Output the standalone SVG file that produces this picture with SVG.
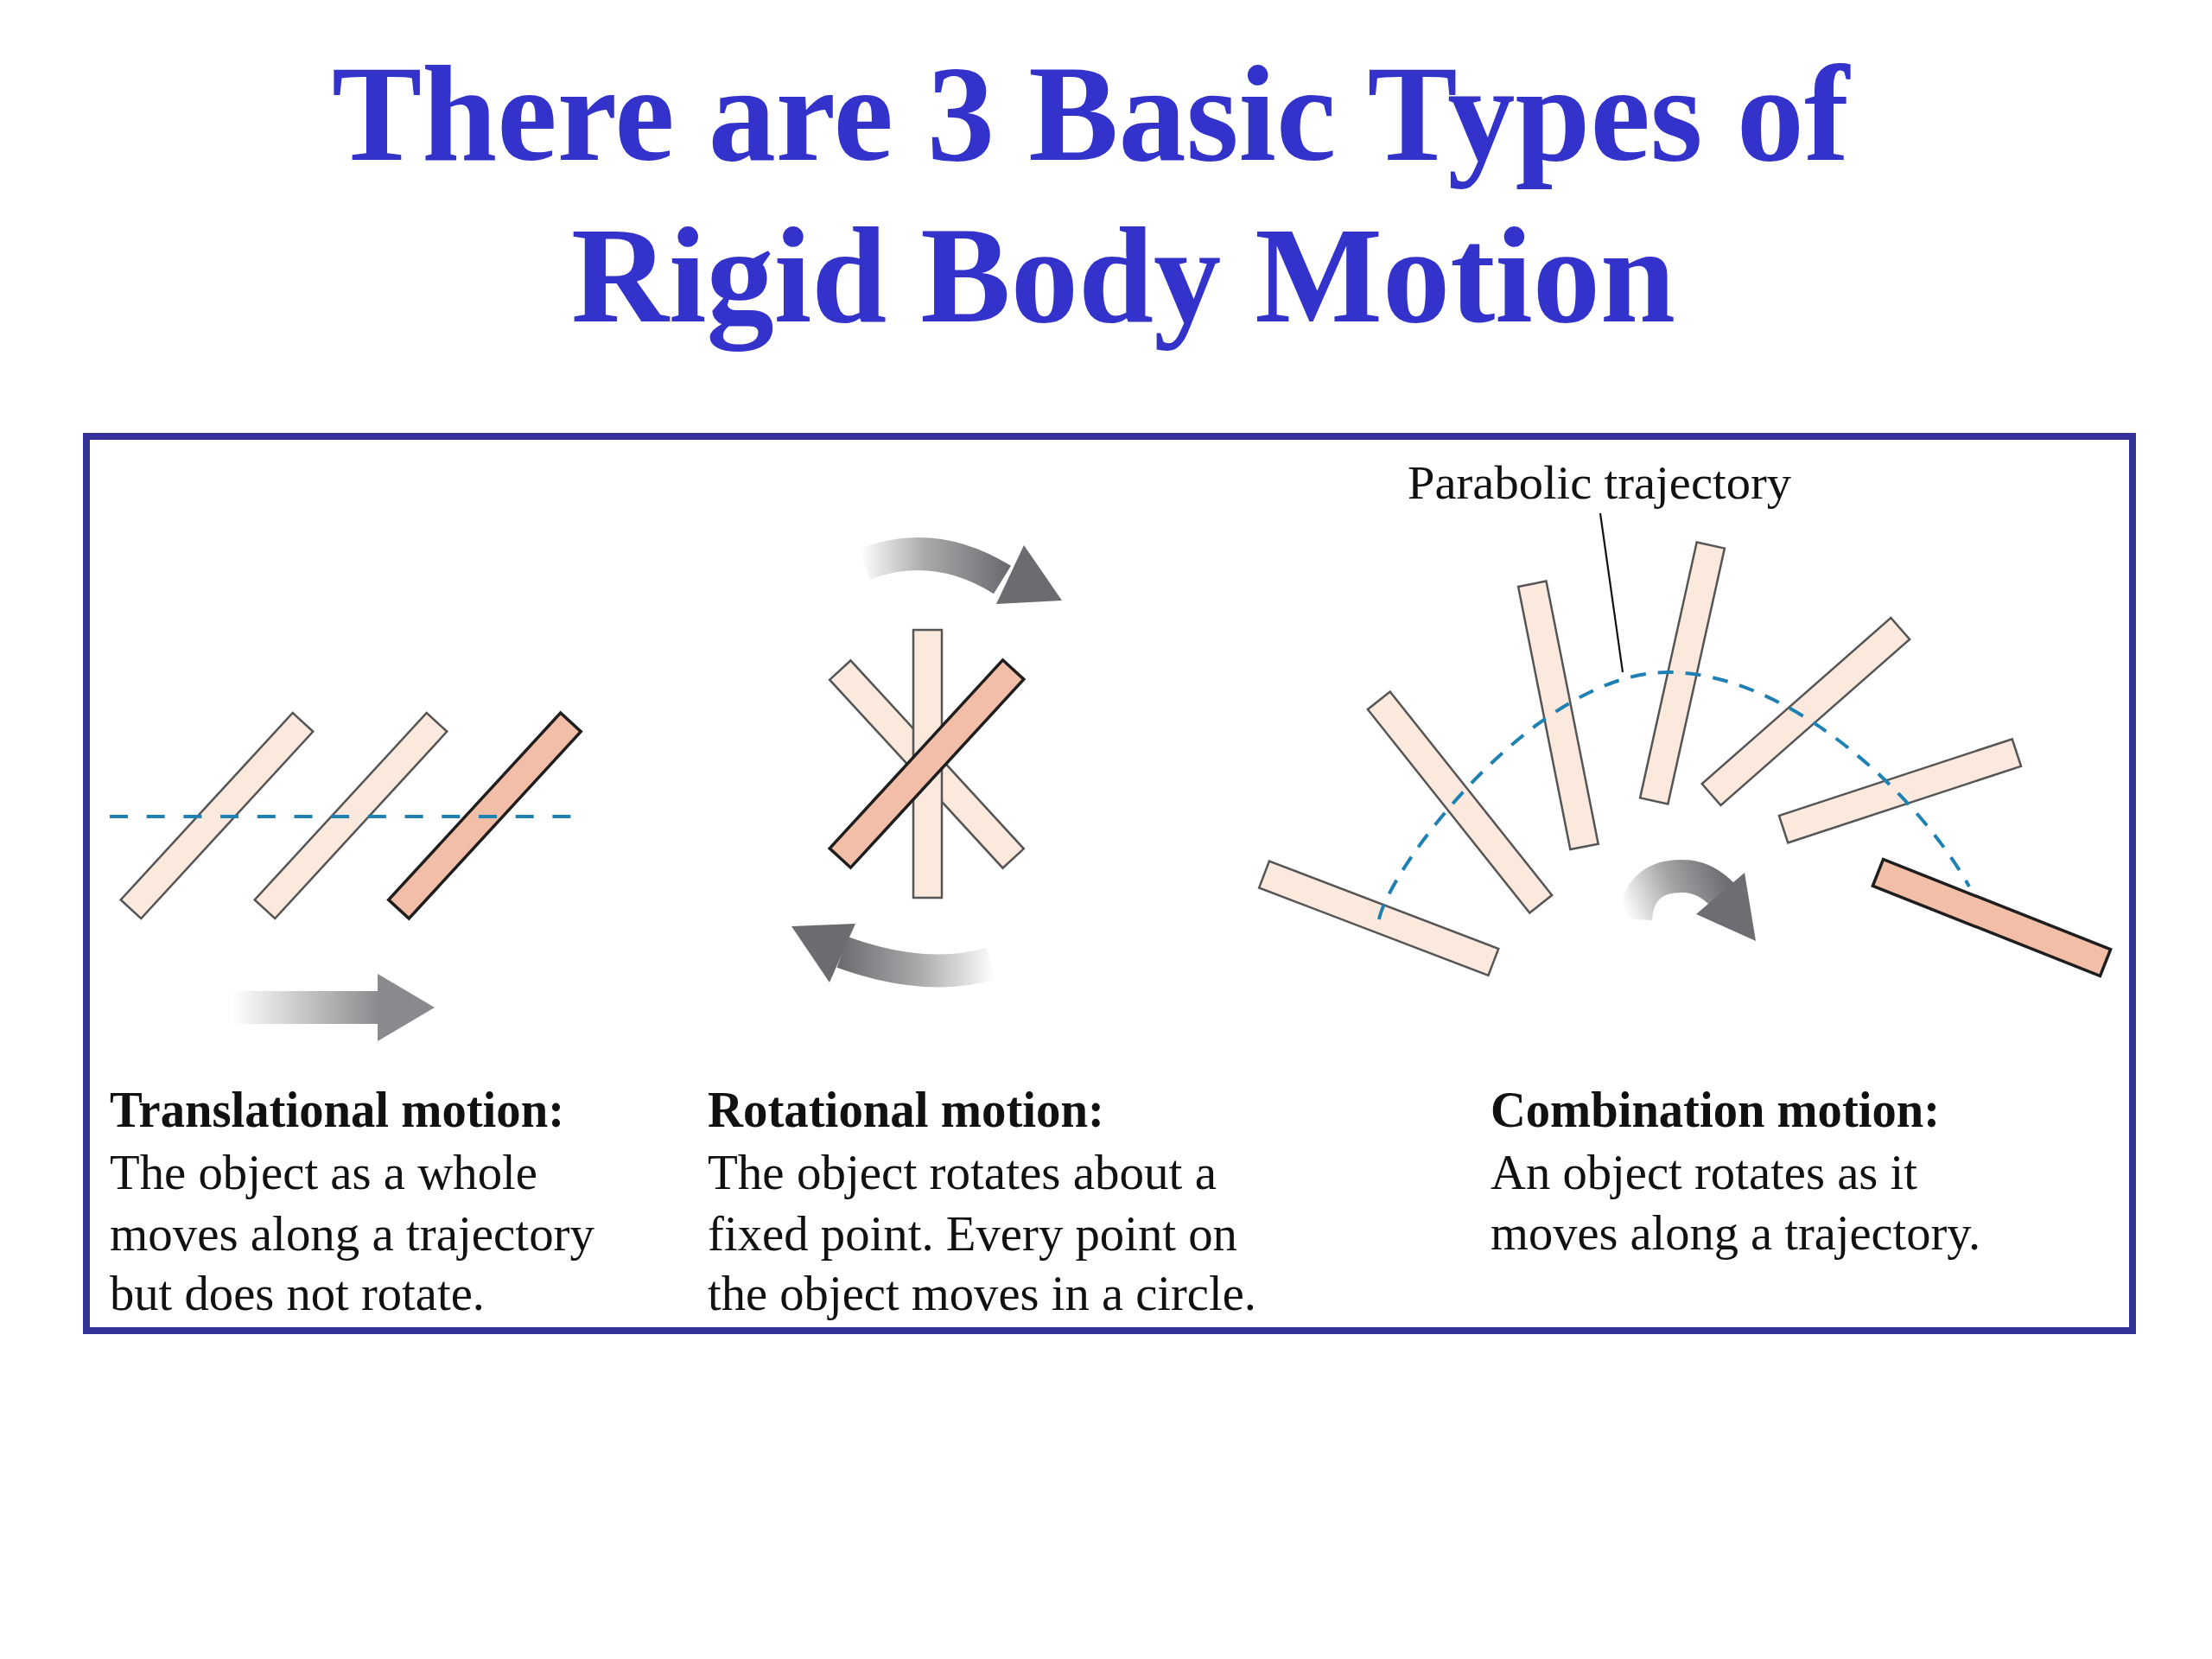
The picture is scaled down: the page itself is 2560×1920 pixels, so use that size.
<svg xmlns="http://www.w3.org/2000/svg" width="2560" height="1920" viewBox="0 0 2560 1920">
  <defs>
    <style>
      .title { font-family: "Liberation Serif", "Times New Roman", serif; font-weight: bold; font-size: 158px; fill: #3333cc; }
      .head { font-family: "Liberation Serif", "Times New Roman", serif; font-weight: bold; font-size: 60px; fill: #111; }
      .body { font-family: "Liberation Serif", "Times New Roman", serif; font-size: 58px; fill: #111; }
      .label { font-family: "Liberation Serif", "Times New Roman", serif; font-size: 55px; fill: #111; }
      .bar-light { fill: #fbe9de; stroke: #555; stroke-width: 2.5; }
      .bar-dark { fill: #f3bea8; stroke: #1e1e1e; stroke-width: 3.5; }
      .traj { fill: none; stroke: #1f80b4; stroke-width: 4; }
      .leader { fill: none; stroke: #111; stroke-width: 2.2; }
    </style>
    <linearGradient id="gStraight" gradientUnits="userSpaceOnUse" x1="268" y1="0" x2="440" y2="0">
      <stop offset="0" stop-color="#ffffff"/>
      <stop offset="1" stop-color="#8a8a8e"/>
    </linearGradient>
    <linearGradient id="gTop" gradientUnits="userSpaceOnUse" x1="995" y1="0" x2="1165" y2="0">
      <stop offset="0" stop-color="#ffffff"/>
      <stop offset="0.45" stop-color="#a9a9ac"/>
      <stop offset="1" stop-color="#6c6c70"/>
    </linearGradient>
    <linearGradient id="gBot" gradientUnits="userSpaceOnUse" x1="1152" y1="0" x2="972" y2="0">
      <stop offset="0" stop-color="#ffffff"/>
      <stop offset="0.5" stop-color="#a9a9ac"/>
      <stop offset="1" stop-color="#6c6c70"/>
    </linearGradient>
    <linearGradient id="gComb" gradientUnits="userSpaceOnUse" x1="1885" y1="1066" x2="1998" y2="1020">
      <stop offset="0" stop-color="#ffffff"/>
      <stop offset="0.5" stop-color="#a5a5a8"/>
      <stop offset="1" stop-color="#6e6e72"/>
    </linearGradient>
  </defs>

  <rect x="0" y="0" width="2560" height="1920" fill="#ffffff"/>

  <g id="title">
    <text class="title" x="384" y="185" textLength="1756" lengthAdjust="spacingAndGlyphs">There are 3 Basic Types of</text>
    <text class="title" x="661" y="372" textLength="1278" lengthAdjust="spacingAndGlyphs">Rigid Body Motion</text>
  </g>

  <g id="frame">
    <rect x="100" y="505" width="2368" height="1035" fill="none" stroke="#33339a" stroke-width="8"/>
  </g>

  <g id="panel-translational">
    <rect class="bar-light" x="-147" y="-16" width="294" height="32" transform="translate(251,944) rotate(-47.4)"/>
    <rect class="bar-light" x="-147" y="-16" width="294" height="32" transform="translate(406,944) rotate(-47.4)"/>
    <rect class="bar-dark" x="-147" y="-16" width="294" height="32" transform="translate(561,944) rotate(-47.4)"/>
    <line class="traj" x1="127" y1="945" x2="665" y2="945" stroke-dasharray="21 21.7"/>
    <g id="arrow-straight">
      <rect x="268" y="1147" width="171" height="38" fill="url(#gStraight)"/>
      <polygon points="437,1127 503,1166 437,1205" fill="#8a8a8e"/>
    </g>
  </g>

  <g id="panel-rotational">
    <rect class="bar-light" x="-148" y="-16.5" width="296" height="33" transform="translate(1072.5,884.5) rotate(47.4)"/>
    <rect class="bar-light" x="1057" y="729" width="33" height="310"/>
    <rect class="bar-dark" x="-148" y="-16.5" width="296" height="33" transform="translate(1072.5,884) rotate(-47.4)"/>
    <g id="arrow-rot-top">
      <path d="M1000,653 Q1081,622 1160,671" fill="none" stroke="url(#gTop)" stroke-width="38"/>
      <polygon points="1185,631 1229,695 1153,699" fill="#6c6c70"/>
    </g>
    <g id="arrow-rot-bottom">
      <path d="M1147,1115 Q1072,1137 975,1102" fill="none" stroke="url(#gBot)" stroke-width="38"/>
      <polygon points="990,1069 916,1072 960,1137" fill="#6c6c70"/>
    </g>
  </g>

  <g id="panel-combination">
    <rect class="bar-light" x="-142" y="-16.5" width="284" height="33" transform="translate(1595.7,1062.7) rotate(20.9)"/>
    <rect class="bar-light" x="-150.5" y="-16.5" width="301" height="33" transform="translate(1689.5,928.5) rotate(51.5)"/>
    <rect class="bar-light" x="-155" y="-16.5" width="310" height="33" transform="translate(1803.4,827.8) rotate(78.8)"/>
    <rect class="bar-light" x="-151.5" y="-16.5" width="303" height="33" transform="translate(1947,779) rotate(102.5)"/>
    <rect class="bar-light" x="-145.5" y="-16.5" width="291" height="33" transform="translate(2089.9,823.5) rotate(-41.3)"/>
    <rect class="bar-light" x="-142" y="-16.5" width="284" height="33" transform="translate(2199,915.4) rotate(-18.2)"/>
    <rect class="bar-dark" x="-141.5" y="-16.5" width="283" height="33" transform="translate(2305,1062) rotate(21.6)"/>
    <path class="traj" d="M1596,1064 C1610,1000 1780,778 1930,778 C2070,778 2220,920 2279,1026" stroke-dasharray="18 14"/>
    <g id="arrow-comb">
      <path d="M1893,1064 C1895,1025 1920,1013 1948,1014 C1965,1014 1980,1022 1993,1035" fill="none" stroke="url(#gComb)" stroke-width="38"/>
      <polygon points="2019,1010 2032,1089 1963,1058" fill="#6e6e72"/>
    </g>
    <text class="label" x="1629" y="577" textLength="444" lengthAdjust="spacingAndGlyphs">Parabolic trajectory</text>
  </g>

  <g id="connectors">
    <line class="leader" x1="1852" y1="594" x2="1878" y2="778"/>
  </g>

  <g id="caption-translational">
    <text class="head" x="127" y="1304" textLength="526" lengthAdjust="spacingAndGlyphs">Translational motion:</text>
    <text class="body" x="127" y="1376" textLength="495" lengthAdjust="spacingAndGlyphs">The object as a whole</text>
    <text class="body" x="127" y="1447" textLength="561" lengthAdjust="spacingAndGlyphs">moves along a trajectory</text>
    <text class="body" x="127" y="1516" textLength="434" lengthAdjust="spacingAndGlyphs">but does not rotate.</text>
  </g>

  <g id="caption-rotational">
    <text class="head" x="819" y="1304" textLength="459" lengthAdjust="spacingAndGlyphs">Rotational motion:</text>
    <text class="body" x="819" y="1376" textLength="589" lengthAdjust="spacingAndGlyphs">The object rotates about a</text>
    <text class="body" x="819" y="1447" textLength="613" lengthAdjust="spacingAndGlyphs">fixed point. Every point on</text>
    <text class="body" x="819" y="1516" textLength="635" lengthAdjust="spacingAndGlyphs">the object moves in a circle.</text>
  </g>

  <g id="caption-combination">
    <text class="head" x="1725" y="1304" textLength="520" lengthAdjust="spacingAndGlyphs">Combination motion:</text>
    <text class="body" x="1725" y="1376" textLength="494" lengthAdjust="spacingAndGlyphs">An object rotates as it</text>
    <text class="body" x="1725" y="1446" textLength="567" lengthAdjust="spacingAndGlyphs">moves along a trajectory.</text>
  </g>
</svg>
